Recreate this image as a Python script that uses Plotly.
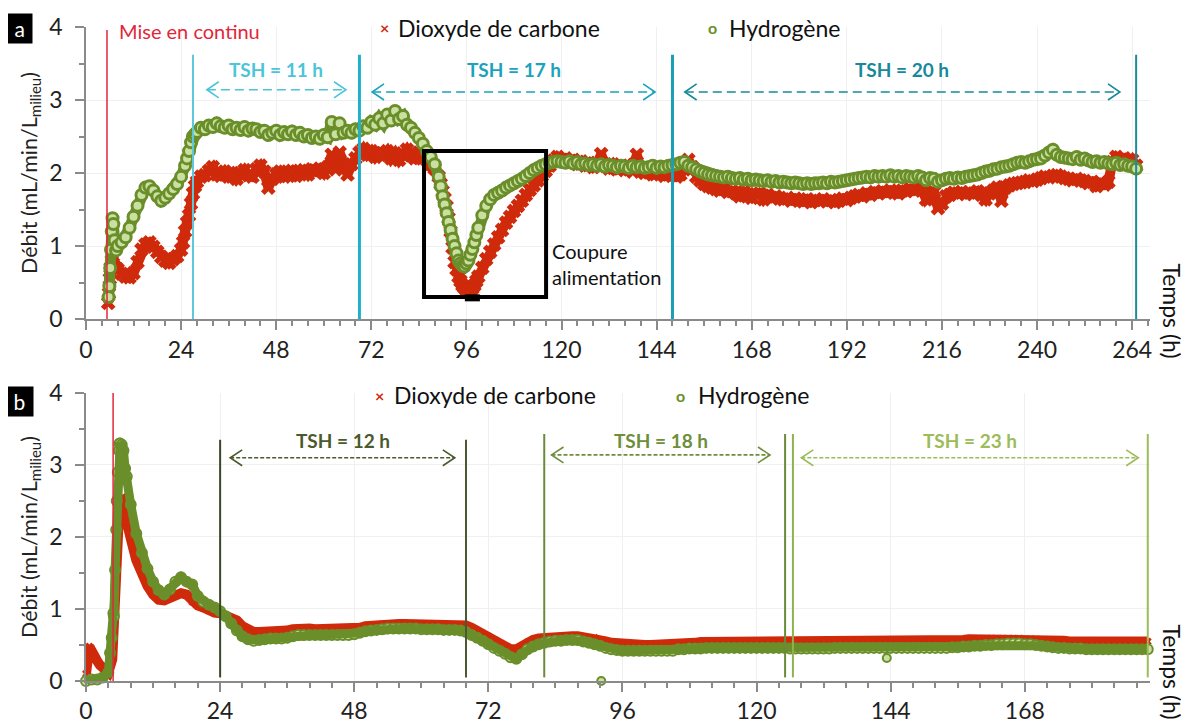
import plotly.graph_objects as go

# ---------------- DATA : panel a ----------------
a_hours = list(range(8, 266))
a_co2 = [
    0.68, 0.62, 0.58, 0.57, 0.63, 0.78, 0.95, 1.02,
    1.05, 0.99, 0.92, 0.85, 0.80, 0.77, 0.82, 0.86, 0.95, 1.20,
    1.42, 1.72, 1.88, 1.95, 1.97, 2.03, 2.08, 1.98, 1.96, 2.02,
    1.95, 2.00, 1.92, 1.98, 2.04, 1.97, 1.95, 2.05, 2.10, 2.02,
    1.80, 1.92, 1.98, 2.02, 1.95, 2.00, 2.03, 1.96, 2.01, 2.04,
    1.98, 2.05, 2.02, 2.06, 2.00, 2.08, 2.25, 2.05, 2.28, 2.10,
    1.98, 2.12, 2.20, 2.28, 2.33, 2.25, 2.30, 2.22, 2.28, 2.24,
    2.30, 2.20, 2.27, 2.18, 2.25, 2.32, 2.24, 2.20, 2.28, 2.22,
    2.18, 2.12, 2.06, 1.95, 1.75, 1.54, 1.20, 0.78, 0.58, 0.46,
    0.40, 0.40, 0.46, 0.58, 0.70, 0.82, 0.92, 1.02, 1.12, 1.22,
    1.32, 1.40, 1.48, 1.55, 1.62, 1.70, 1.77, 1.83, 1.90, 1.96,
    2.03, 2.10, 2.17, 2.22, 2.18, 2.20, 2.15, 2.18, 2.12, 2.16,
    2.10, 2.14, 2.08, 2.12, 2.26, 2.10, 2.06, 2.12, 2.05, 2.08,
    2.04, 2.10, 2.02, 2.25, 2.04, 2.00, 2.06, 1.98, 2.02, 2.00,
    1.96, 1.99, 1.97, 1.95, 1.98, 2.05, 2.18, 2.08, 1.95, 1.90,
    1.85, 1.82, 1.80, 1.78, 1.76, 1.79, 1.74, 1.75, 1.72, 1.68,
    1.74, 1.70, 1.66, 1.71, 1.72, 1.64, 1.70, 1.66, 1.68, 1.65,
    1.64, 1.66, 1.62, 1.65, 1.63, 1.61, 1.64, 1.60, 1.63, 1.62,
    1.64, 1.61, 1.63, 1.60, 1.62, 1.65, 1.63, 1.66, 1.68, 1.70,
    1.68, 1.72, 1.70, 1.74, 1.72, 1.75, 1.73, 1.76, 1.74, 1.72,
    1.76, 1.75, 1.78, 1.76, 1.79, 1.77, 1.64, 1.72, 1.74, 1.52,
    1.58, 1.68, 1.70, 1.73, 1.72, 1.74, 1.71, 1.73, 1.72, 1.75,
    1.70, 1.64, 1.72, 1.76, 1.80, 1.62, 1.80, 1.83, 1.85, 1.86,
    1.87, 1.88, 1.90, 1.89, 1.91, 1.93, 1.95, 1.94, 1.96, 1.97,
    1.95, 1.93, 1.92, 1.90, 1.92, 1.90, 1.89, 1.86, 1.88, 1.82,
    1.86, 1.84, 1.88, 2.15, 2.22, 2.18, 2.20, 2.12, 2.18, 2.10,
]
a_h2 = [
    1.00, 1.05, 1.12, 1.25, 1.40, 1.55, 1.70, 1.80,
    1.82, 1.76, 1.68, 1.62, 1.66, 1.72, 1.78, 1.85, 1.95, 2.10,
    2.30, 2.50, 2.56, 2.62, 2.60, 2.65, 2.63, 2.68, 2.64, 2.62,
    2.65, 2.60, 2.62, 2.59, 2.63, 2.58, 2.61, 2.60, 2.56, 2.58,
    2.52, 2.55, 2.58, 2.52, 2.56, 2.53, 2.57, 2.52, 2.55, 2.50,
    2.52, 2.48, 2.50, 2.47, 2.52, 2.49, 2.70, 2.53, 2.68, 2.55,
    2.58, 2.55, 2.60, 2.58, 2.64, 2.62, 2.70, 2.66, 2.75, 2.68,
    2.80, 2.72, 2.85, 2.74, 2.78, 2.66, 2.62, 2.55, 2.48, 2.40,
    2.30, 2.22, 2.12, 1.95, 1.68, 1.45, 1.22, 1.00, 0.80, 0.73,
    0.76, 0.88, 1.05, 1.25, 1.42, 1.55, 1.64, 1.70, 1.73, 1.76,
    1.80, 1.83, 1.86, 1.89, 1.92, 1.96, 2.00, 2.04, 2.07, 2.10,
    2.12, 2.14, 2.15, 2.16, 2.15, 2.14, 2.16, 2.13, 2.15, 2.12,
    2.13, 2.11, 2.12, 2.10, 2.12, 2.09, 2.11, 2.10, 2.08, 2.10,
    2.09, 2.07, 2.10, 2.08, 2.09, 2.07, 2.08, 2.10, 2.07, 2.09,
    2.08, 2.10, 2.11, 2.12, 2.14, 2.15, 2.10, 2.08, 2.05, 2.02,
    2.00, 1.98, 1.97, 1.96, 1.95, 1.94, 1.95, 1.93, 1.92, 1.93,
    1.91, 1.92, 1.90, 1.91, 1.90, 1.89, 1.90, 1.88, 1.89, 1.87,
    1.88, 1.87, 1.86, 1.87, 1.86, 1.85, 1.86, 1.85, 1.86, 1.86,
    1.87, 1.86, 1.88, 1.87, 1.88, 1.89, 1.90, 1.91, 1.92, 1.93,
    1.94, 1.95, 1.94, 1.96, 1.95, 1.96, 1.95, 1.97, 1.95, 1.96,
    1.94, 1.96, 1.95, 1.94, 1.96, 1.94, 1.90, 1.93, 1.92, 1.88,
    1.90, 1.92, 1.93, 1.92, 1.94, 1.93, 1.95, 1.96, 1.97, 1.98,
    2.00, 2.02, 2.03, 2.05, 2.06, 2.08, 2.09, 2.10, 2.12, 2.14,
    2.15, 2.14, 2.16, 2.18, 2.19, 2.20, 2.24, 2.28, 2.32, 2.25,
    2.22, 2.21, 2.20, 2.19, 2.22, 2.18, 2.20, 2.17, 2.15, 2.16,
    2.14, 2.15, 2.13, 2.12, 2.14, 2.11, 2.12, 2.10, 2.09, 2.06,
]
# extra readings on the steep parts (panel a)
a_co2_extra_t = [5.6, 5.8, 6.0, 6.2, 6.5, 6.8, 7.0, 7.5, 24.5, 25.5, 26.5, 27.5,
                 89.5, 90.5, 91.5, 92.5, 93.5, 94.5, 95.5, 96.5, 97.5, 98.5]
a_co2_extra_v = [0.22, 0.35, 0.55, 0.70, 0.80, 0.76, 0.72, 0.70, 1.05, 1.32, 1.58, 1.82,
                 1.85, 1.65, 1.38, 0.98, 0.68, 0.52, 0.43, 0.38, 0.42, 0.52]
a_h2_extra_t = [5.7, 5.9, 6.1, 6.3, 6.5, 6.7, 6.9, 7.2, 7.6, 25.5, 26.5, 27.5,
                89.5, 90.5, 91.5, 92.5, 93.5, 94.5, 95.5, 96.5, 97.5, 98.5]
a_h2_extra_v = [0.30, 0.45, 0.70, 0.95, 1.20, 1.38, 1.30, 1.08, 0.94, 2.20, 2.42, 2.53,
                1.82, 1.57, 1.33, 1.10, 0.90, 0.76, 0.72, 0.80, 0.96, 1.15]

# ---------------- DATA : panel b ----------------
b_hours = list(range(0, 191))
b_co2 = [
    0.10, 0.42, 0.28, 0.18, 0.12, 1.00, 2.48, 2.30, 1.98, 1.68,
    1.48, 1.32, 1.20, 1.13, 1.12, 1.16, 1.20, 1.22, 1.20, 1.10,
    1.05, 1.02, 0.98, 0.95, 0.94, 0.90, 0.86, 0.84, 0.76, 0.70,
    0.68, 0.68, 0.68, 0.68, 0.68, 0.69, 0.70, 0.72, 0.73, 0.73,
    0.73, 0.72, 0.72, 0.72, 0.72, 0.71, 0.71, 0.71, 0.72, 0.74,
    0.76, 0.77, 0.78, 0.79, 0.79, 0.79, 0.79, 0.79, 0.79, 0.79,
    0.79, 0.79, 0.78, 0.78, 0.78, 0.78, 0.78, 0.78, 0.77, 0.74,
    0.70, 0.66, 0.62, 0.57, 0.52, 0.48, 0.44, 0.44, 0.49, 0.54,
    0.57, 0.59, 0.60, 0.61, 0.61, 0.62, 0.62, 0.62, 0.62, 0.61,
    0.60, 0.60, 0.57, 0.55, 0.53, 0.52, 0.51, 0.51, 0.50, 0.50,
    0.50, 0.50, 0.50, 0.51, 0.51, 0.51, 0.52, 0.52, 0.53, 0.53,
    0.54, 0.54, 0.54, 0.55, 0.55, 0.55, 0.55, 0.55, 0.55, 0.55,
    0.55, 0.55, 0.55, 0.55, 0.55, 0.55, 0.55, 0.55, 0.55, 0.55,
    0.55, 0.55, 0.55, 0.55, 0.55, 0.55, 0.55, 0.55, 0.55, 0.56,
    0.56, 0.56, 0.56, 0.56, 0.56, 0.56, 0.56, 0.56, 0.56, 0.56,
    0.56, 0.56, 0.56, 0.56, 0.56, 0.57, 0.57, 0.57, 0.58, 0.58,
    0.58, 0.58, 0.59, 0.59, 0.59, 0.59, 0.59, 0.59, 0.58, 0.58,
    0.58, 0.57, 0.57, 0.56, 0.56, 0.56, 0.55, 0.55, 0.55, 0.55,
    0.55, 0.55, 0.55, 0.55, 0.55, 0.55, 0.55, 0.55, 0.55, 0.55,
    0.55,
]
b_h2 = [
    0.00, 0.02, 0.02, 0.05, 0.12, 0.90, 3.30, 2.95, 2.45, 2.05,
    1.78, 1.56, 1.38, 1.26, 1.20, 1.27, 1.38, 1.44, 1.38, 1.34,
    1.18, 1.10, 1.06, 1.02, 0.97, 0.90, 0.80, 0.70, 0.62, 0.58,
    0.56, 0.57, 0.58, 0.59, 0.59, 0.59, 0.60, 0.62, 0.64, 0.64,
    0.64, 0.64, 0.64, 0.64, 0.64, 0.64, 0.64, 0.64, 0.65, 0.67,
    0.69, 0.70, 0.71, 0.72, 0.73, 0.73, 0.73, 0.73, 0.73, 0.73,
    0.72, 0.72, 0.72, 0.72, 0.71, 0.71, 0.71, 0.70, 0.68, 0.64,
    0.60, 0.56, 0.51, 0.46, 0.42, 0.38, 0.33, 0.31, 0.37, 0.44,
    0.48, 0.51, 0.53, 0.55, 0.56, 0.56, 0.57, 0.57, 0.57, 0.55,
    0.53, 0.51, 0.49, 0.46, 0.44, 0.43, 0.42, 0.42, 0.42, 0.42,
    0.42, 0.42, 0.42, 0.42, 0.42, 0.42, 0.44, 0.44, 0.45, 0.45,
    0.45, 0.46, 0.46, 0.46, 0.46, 0.46, 0.46, 0.46, 0.46, 0.46,
    0.46, 0.46, 0.46, 0.46, 0.46, 0.46, 0.45, 0.45, 0.45, 0.45,
    0.45, 0.45, 0.45, 0.45, 0.46, 0.46, 0.46, 0.46, 0.46, 0.46,
    0.46, 0.46, 0.46, 0.46, 0.46, 0.46, 0.46, 0.46, 0.46, 0.46,
    0.46, 0.46, 0.46, 0.46, 0.46, 0.47, 0.47, 0.48, 0.48, 0.49,
    0.49, 0.50, 0.50, 0.51, 0.51, 0.52, 0.52, 0.52, 0.51, 0.51,
    0.50, 0.49, 0.48, 0.47, 0.46, 0.46, 0.45, 0.45, 0.45, 0.44,
    0.44, 0.44, 0.44, 0.44, 0.44, 0.44, 0.44, 0.44, 0.44, 0.44,
    0.44,
]
b_co2_extra_t = [0.3, 0.6, 1.5, 2.5, 3.5, 4.7, 4.9, 5.2, 5.4, 5.6, 5.8, 6.4, 6.7, 7.6]
b_co2_extra_v = [0.45, 0.48, 0.32, 0.22, 0.15, 0.30, 0.66, 1.40, 1.90, 2.20, 2.40, 2.50, 2.42, 2.14]
b_h2_extra_t = [4.3, 4.6, 4.9, 5.2, 5.4, 5.5, 5.7, 5.9, 6.1, 6.4, 6.7, 7.3]
b_h2_extra_v = [0.39, 0.60, 0.94, 1.54, 2.10, 2.50, 2.90, 3.20, 3.30, 3.28, 3.20, 2.84]
b_h2_outlier_t = [92.2, 143.3]
b_h2_outlier_v = [0.00, 0.32]

# ---------------- annotations data ----------------
start_a, start_b = 5.3, 4.85
# (hour, top value, colour, width)
vlines_a = [(27, 3.62, "#5ec8dc", 2), (69, 3.62, "#1fb0c9", 3),
            (148, 3.62, "#1c9fb6", 3), (265, 3.62, "#1b8c9c", 2)]
vlines_b = [(24, 3.35, "#3b4626", 2), (68, 3.35, "#4b5832", 2), (82, 3.43, "#6b8a3a", 2),
            (125.1, 3.43, "#6b8a3a", 2), (126.5, 3.43, "#8fb24f", 2), (190, 3.43, "#9cbc5a", 2)]
# (x0, x1, y, label, colour)
tsh_a = [(30.5, 65.6, 3.14, "TSH = 11 h", "#4cc4da"),
         (72.2, 143.6, 3.11, "TSH = 17 h", "#1aa3ba"),
         (151.1, 260.9, 3.11, "TSH = 20 h", "#17899b")]
tsh_b = [(25.8, 66.0, 3.10, "TSH = 12 h", "#4a5a2c"),
         (83.3, 122.4, 3.14, "TSH = 18 h", "#6e8e3c"),
         (128.0, 188.3, 3.10, "TSH = 23 h", "#9cbc5a")]

RED = "#cf2a0b"
GREEN = "#6a8e2a"
GREEN_FILL = "#c9e0a0"
FONT = "Lato"


def sorted_pairs(t, v):
    pairs = sorted(zip(t, v))
    return [p[0] for p in pairs], [p[1] for p in pairs]


fig = go.Figure()

# panel a : CO2
ta, va = sorted_pairs(a_hours + a_co2_extra_t, a_co2 + a_co2_extra_v)
fig.add_trace(go.Scatter(x=ta, y=va, mode="lines", line=dict(color=RED, width=10),
                         xaxis="x", yaxis="y", showlegend=False, hoverinfo="skip"))
fig.add_trace(go.Scatter(x=ta, y=va, mode="markers",
                         marker=dict(symbol="x", size=13, color=RED, line=dict(width=0)),
                         xaxis="x", yaxis="y", showlegend=False, cliponaxis=False))
# panel a : H2
th, vh = sorted_pairs(a_hours + a_h2_extra_t, a_h2 + a_h2_extra_v)
fig.add_trace(go.Scatter(x=th, y=vh, mode="lines", line=dict(color=GREEN, width=11),
                         xaxis="x", yaxis="y", showlegend=False, hoverinfo="skip"))
fig.add_trace(go.Scatter(x=th, y=vh, mode="markers",
                         marker=dict(symbol="circle", size=11, color=GREEN_FILL,
                                     line=dict(color=GREEN, width=3)),
                         xaxis="x", yaxis="y", showlegend=False, cliponaxis=False))

# panel b
tb, vb = sorted_pairs(b_hours + b_co2_extra_t, b_co2 + b_co2_extra_v)
fig.add_trace(go.Scatter(x=tb, y=vb, mode="lines", line=dict(color=RED, width=10),
                         xaxis="x2", yaxis="y2", showlegend=False, cliponaxis=False))
fig.add_trace(go.Scatter(x=tb, y=vb, mode="markers",
                         marker=dict(symbol="x", size=7, color=RED, line=dict(width=0)),
                         xaxis="x2", yaxis="y2", showlegend=False, cliponaxis=False))
tg, vg = sorted_pairs(b_hours + b_h2_extra_t, b_h2 + b_h2_extra_v)
fig.add_trace(go.Scatter(x=tg, y=vg, mode="markers",
                         marker=dict(symbol="circle", size=10, color=GREEN_FILL,
                                     line=dict(color=GREEN, width=2)),
                         xaxis="x2", yaxis="y2", showlegend=False, cliponaxis=False))
fig.add_trace(go.Scatter(x=tg, y=vg, mode="lines",
                         line=dict(color=GREEN, width=9),
                         xaxis="x2", yaxis="y2", showlegend=False, cliponaxis=False))
fig.add_trace(go.Scatter(x=b_h2_outlier_t, y=b_h2_outlier_v, mode="markers",
                         marker=dict(symbol="circle", size=8, color=GREEN_FILL,
                                     line=dict(color=GREEN, width=2)),
                         xaxis="x2", yaxis="y2", showlegend=False, cliponaxis=False))

shapes = []
annotations = []


def vline(xr, yr, x, y0, y1, color, width):
    shapes.append(dict(type="line", xref=xr, yref=yr, x0=x, x1=x, y0=y0, y1=y1,
                       line=dict(color=color, width=width), layer="above"))


vline("x", "y", start_a, 0, 3.96, "#e3253a", 1.5)
vline("x2", "y2", start_b, 0, 4.08, "#e3253a", 1.5)
for h, top, c, w in vlines_a:
    vline("x", "y", h, 0, top, c, w)
for h, top, c, w in vlines_b:
    vline("x2", "y2", h, 0.05, top, c, w)


def tsh_arrow(xr, yr, x0, x1, y, label, color, dx, dy, dash, ty, size):
    shapes.append(dict(type="line", xref=xr, yref=yr, x0=x0, x1=x1, y0=y, y1=y,
                       line=dict(color=color, width=1.6, dash=dash)))
    shapes.append(dict(type="path", xref=xr, yref=yr,
                       path=f"M {x0+dx},{y+dy} L {x0},{y} L {x0+dx},{y-dy}",
                       line=dict(color=color, width=1.6)))
    shapes.append(dict(type="path", xref=xr, yref=yr,
                       path=f"M {x1-dx},{y+dy} L {x1},{y} L {x1-dx},{y-dy}",
                       line=dict(color=color, width=1.6)))
    annotations.append(dict(xref=xr, yref=yr, x=(x0 + x1) / 2, y=ty, text=f"<b>{label}</b>",
                            showarrow=False, font=dict(family=FONT, size=size, color=color)))


for x0, x1, y, lab, c in tsh_a:
    tsh_arrow("x", "y", x0, x1, y, lab, c, 3.0, 0.11, "9px,5px", 3.42, 19)
for x0, x1, y, lab, c in tsh_b:
    tsh_arrow("x2", "y2", x0, x1, y, lab, c, 2.15, 0.11, "4px,2px", 3.34, 19)

# "Coupure alimentation" box
shapes.append(dict(type="rect", xref="x", yref="y", x0=85.3, x1=116.1, y0=0.30, y1=2.30,
                   line=dict(color="black", width=4)))
shapes.append(dict(type="line", xref="x", yref="y", x0=95.6, x1=99.4, y0=0.29, y1=0.29,
                   line=dict(color="black", width=7)))
annotations.append(dict(xref="x", yref="y", x=117.2, y=0.76, xanchor="left", yanchor="middle",
                        align="left", text="Coupure<br>alimentation", showarrow=False,
                        font=dict(family=FONT, size=20, color="#111")))

# "Mise en continu"
annotations.append(dict(xref="x", yref="y", x=7.8, y=3.94, xanchor="left", yanchor="middle",
                        text="Mise en continu", showarrow=False,
                        font=dict(family=FONT, size=20, color="#e3253a")))
annotations.append(dict(xref="x2", yref="y2", x=8.8, y=4.05, xanchor="left", yanchor="middle",
                        text="Mise en continu", showarrow=False,
                        font=dict(family=FONT, size=20, color="#e3253a")))


def legend(xr, yr, xm1, xt1, xm2, xt2, y):
    annotations.append(dict(xref=xr, yref=yr, x=xm1, y=y, text="<b>×</b>", showarrow=False,
                            xanchor="center", yanchor="middle",
                            font=dict(family=FONT, size=16, color=RED)))
    annotations.append(dict(xref=xr, yref=yr, x=xt1, y=y, text="Dioxyde de carbone", showarrow=False,
                            xanchor="left", yanchor="middle",
                            font=dict(family=FONT, size=23, color="#111")))
    annotations.append(dict(xref=xr, yref=yr, x=xm2, y=y, text="<b>o</b>", showarrow=False,
                            xanchor="center", yanchor="middle",
                            font=dict(family=FONT, size=16, color=GREEN)))
    annotations.append(dict(xref=xr, yref=yr, x=xt2, y=y, text="Hydrogène", showarrow=False,
                            xanchor="left", yanchor="middle",
                            font=dict(family=FONT, size=23, color="#111")))


legend("x", "y", 75.4, 78.3, 158.0, 161.8, 3.99)
legend("x2", "y2", 52.6, 54.7, 106.3, 109.1, 3.97)

# Temps (h) labels and panel letters
for yc in (0.491, -0.061):
    annotations.append(dict(xref="paper", yref="paper", x=(1172 - 86) / 1064, y=yc, xanchor="center",
                            yanchor="bottom", text="Temps (h)", textangle=90, showarrow=False,
                            font=dict(family=FONT, size=23, color="#111")))
for lab, yc in (("a", 0.997), ("b", 0.427)):
    annotations.append(dict(xref="paper", yref="paper", x=-67 / 1064, y=yc, xanchor="center",
                            yanchor="middle", text=f" {lab} ", showarrow=False, bgcolor="black",
                            borderpad=2, font=dict(family=FONT, size=21, color="white")))

axis_common = dict(showline=True, linecolor="#8a8a8a", linewidth=1.5, ticks="outside",
                   tickcolor="#8a8a8a", tickwidth=1.5, ticklen=9, automargin=False,
                   tickfont=dict(family=FONT, size=23, color="#222"),
                   showgrid=True, gridcolor="#f0f0f0", gridwidth=1, zeroline=False)

yt = [0, 1, 2, 3, 4]
xt_a = list(range(0, 265, 24))
xt_b = list(range(0, 169, 24))

ytitle = dict(text="Débit (mL/min/L<sub>milieu</sub>)", font=dict(family=FONT, size=21.5, color="#222"),
              standoff=6)

xminor = dict(dtick=4, tick0=0, ticks="outside", ticklen=5, tickcolor="#8a8a8a", showgrid=False)
yminor = dict(dtick=0.5, ticks="outside", ticklen=5, tickcolor="#8a8a8a", showgrid=False)

# the page adds an 8 px body margin, so the figure is 8 px smaller and shifted
fig.update_layout(
    width=1181, height=716, paper_bgcolor="white", plot_bgcolor="white",
    margin=dict(l=78, r=39, t=19, b=43),
    xaxis=dict(domain=[0, 1], anchor="y", range=[0, 268.5], tickvals=xt_a, minor=xminor,
               ticklabelstandoff=1, **axis_common),
    yaxis=dict(domain=[0.5535, 1.0], anchor="x", range=[0, 4], tickvals=yt, minor=yminor,
               ticklabelstandoff=8, title=ytitle, **axis_common),
    xaxis2=dict(domain=[0, 1], anchor="y2", range=[0, 190.4], tickvals=xt_b, minor=xminor,
                ticklabelstandoff=0, **axis_common),
    yaxis2=dict(domain=[0, 0.4404], anchor="x2", range=[0, 4], tickvals=yt, minor=yminor,
                ticklabelstandoff=8, title=ytitle, **axis_common),
    shapes=shapes, annotations=annotations,
)

fig.write_html("out.html")
